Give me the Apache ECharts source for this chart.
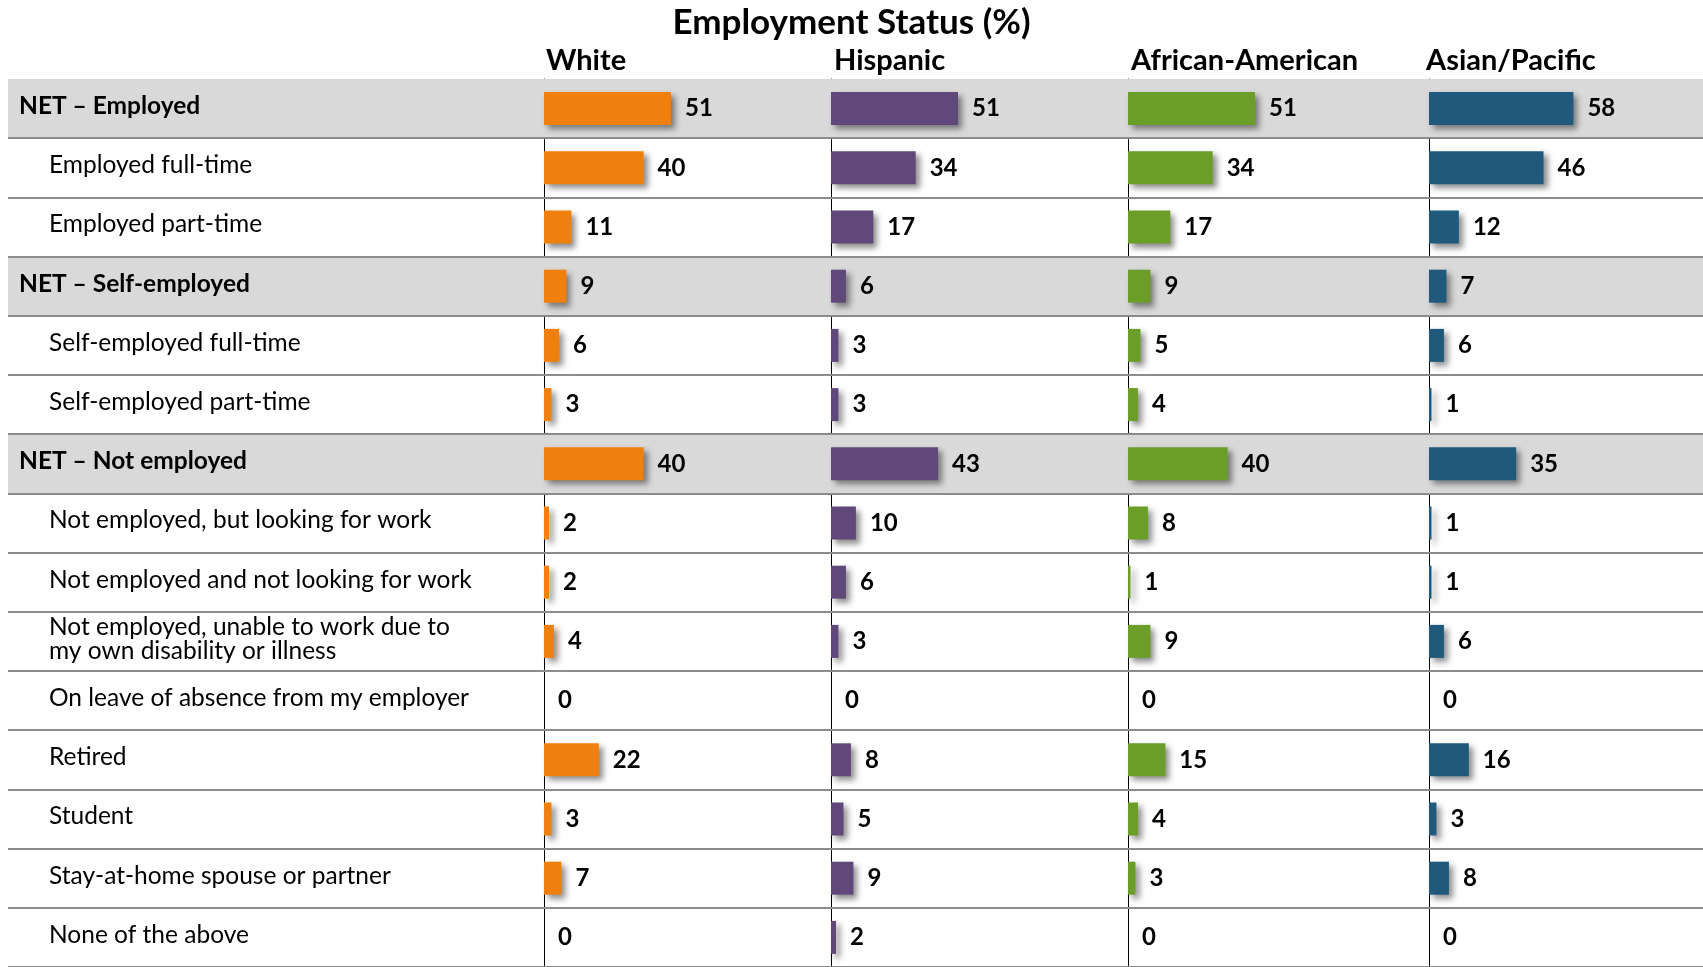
<!DOCTYPE html>
<html>
<head>
<meta charset="utf-8">
<script src="https://cdn.jsdelivr.net/npm/echarts@6/dist/echarts.min.js"></script>
<style>
html,body{margin:0;padding:0;background:#fff;}
#chart{width:1703px;height:967px;}
</style>
</head>
<body>
<div id="chart"></div>
<script>
const chartTitle = 'Employment Status (%)';
const categories = [
  'NET – Employed',
  'Employed full-time',
  'Employed part-time',
  'NET – Self-employed',
  'Self-employed full-time',
  'Self-employed part-time',
  'NET – Not employed',
  'Not employed, but looking for work',
  'Not employed and not looking for work',
  'Not employed, unable to work due to\nmy own disability or illness',
  'On leave of absence from my employer',
  'Retired',
  'Student',
  'Stay-at-home spouse or partner',
  'None of the above'
];
const groups = ['White', 'Hispanic', 'African-American', 'Asian/Pacific'];
const white    = [51, 40, 11, 9, 6, 3, 40, 2, 2, 4, 0, 22, 3, 7, 0];
const hispanic = [51, 34, 17, 6, 3, 3, 43, 10, 6, 3, 0, 8, 5, 9, 2];
const african  = [51, 34, 17, 9, 5, 4, 40, 8, 1, 9, 0, 15, 4, 3, 0];
const asian    = [58, 46, 12, 7, 6, 1, 35, 1, 1, 6, 0, 16, 3, 8, 0];
const seriesValues = [white, hispanic, african, asian];

const colors = ['#F0800E', '#60497A', '#6A9E28', '#1F5A7C'];
const FONT = 'Lato, "Open Sans", sans-serif';
const gridTop = 79, gridHeight = 891;
const colLeft = [544, 831, 1128, 1429];
const headerLeft = [546, 834, 1131, 1426];

const isNet = c => c.indexOf('NET') === 0;

const grids = [{left: 8, right: 0, top: gridTop, height: gridHeight}];
const xAxes = [{gridIndex: 0, type: 'value', min: 0, max: 1, show: false}];
const yAxes = [{
  gridIndex: 0, type: 'category', data: categories, inverse: true, z: 5,
  axisLine: {show: false}, axisTick: {show: false},
  splitLine: {show: true, showMinLine: false, interval: 0, lineStyle: {color: '#8c8c8c', width: 2}},
  axisLabel: {
    inside: true, margin: 11, interval: 0, verticalAlign: 'middle',
    formatter: function (v) {
      const tag = isNet(v) ? 'net' : 'sub';
      return v.split('\n').map(s => '{' + tag + '|' + s + '}').join('\n');
    },
    rich: {
      net: {fontFamily: FONT, fontSize: 24.5, fontWeight: 'bold', color: '#000', padding: [0, 0, 5, 0], lineHeight: 26},
      sub: {fontFamily: FONT, fontSize: 24.5, color: '#000', padding: [0, 0, 5, 30], lineHeight: 24}
    }
  }
}];
const series = [{
  type: 'bar', xAxisIndex: 0, yAxisIndex: 0, silent: true,
  data: categories.map(c => isNet(c) ? 1 : 0),
  barWidth: '100%', itemStyle: {color: '#d9d9d9'}, z: 1
}];

groups.forEach((g, i) => {
  const gi = i + 1;
  grids.push({left: colLeft[i], width: 249, top: gridTop, height: gridHeight});
  xAxes.push({gridIndex: gi, type: 'value', min: 0, max: 100, show: false});
  yAxes.push({
    gridIndex: gi, type: 'category', data: categories, inverse: true,
    axisLine: {show: true, lineStyle: {color: '#000', width: 1}},
    axisTick: {show: false}, axisLabel: {show: false}, splitLine: {show: false}
  });
  series.push({
    type: 'bar', name: g, xAxisIndex: gi, yAxisIndex: gi,
    data: seriesValues[i], barWidth: 33, z: 3,
    itemStyle: {
      color: colors[i],
      shadowColor: 'rgba(0,0,0,0.45)', shadowBlur: 6, shadowOffsetX: 4, shadowOffsetY: 4
    },
    label: {
      show: true, position: 'right', distance: 14,
      fontFamily: FONT, fontSize: 24, fontWeight: 'bold', color: '#000'
    }
  });
});

const titles = [{
  text: chartTitle, left: 'center', top: 0,
  textStyle: {fontFamily: FONT, fontSize: 35, fontWeight: 'bold', color: '#000'}
}];
groups.forEach((g, i) => {
  titles.push({
    text: g, left: headerLeft[i], top: 46, padding: 0,
    textStyle: {fontFamily: FONT, fontSize: 29, fontWeight: 'bold', color: '#000'}
  });
});

const chart = echarts.init(document.getElementById('chart'), null, {renderer: 'canvas'});
chart.setOption({
  animation: false,
  backgroundColor: '#fff',
  title: titles,
  grid: grids,
  xAxis: xAxes,
  yAxis: yAxes,
  series: series
});
</script>
</body>
</html>
